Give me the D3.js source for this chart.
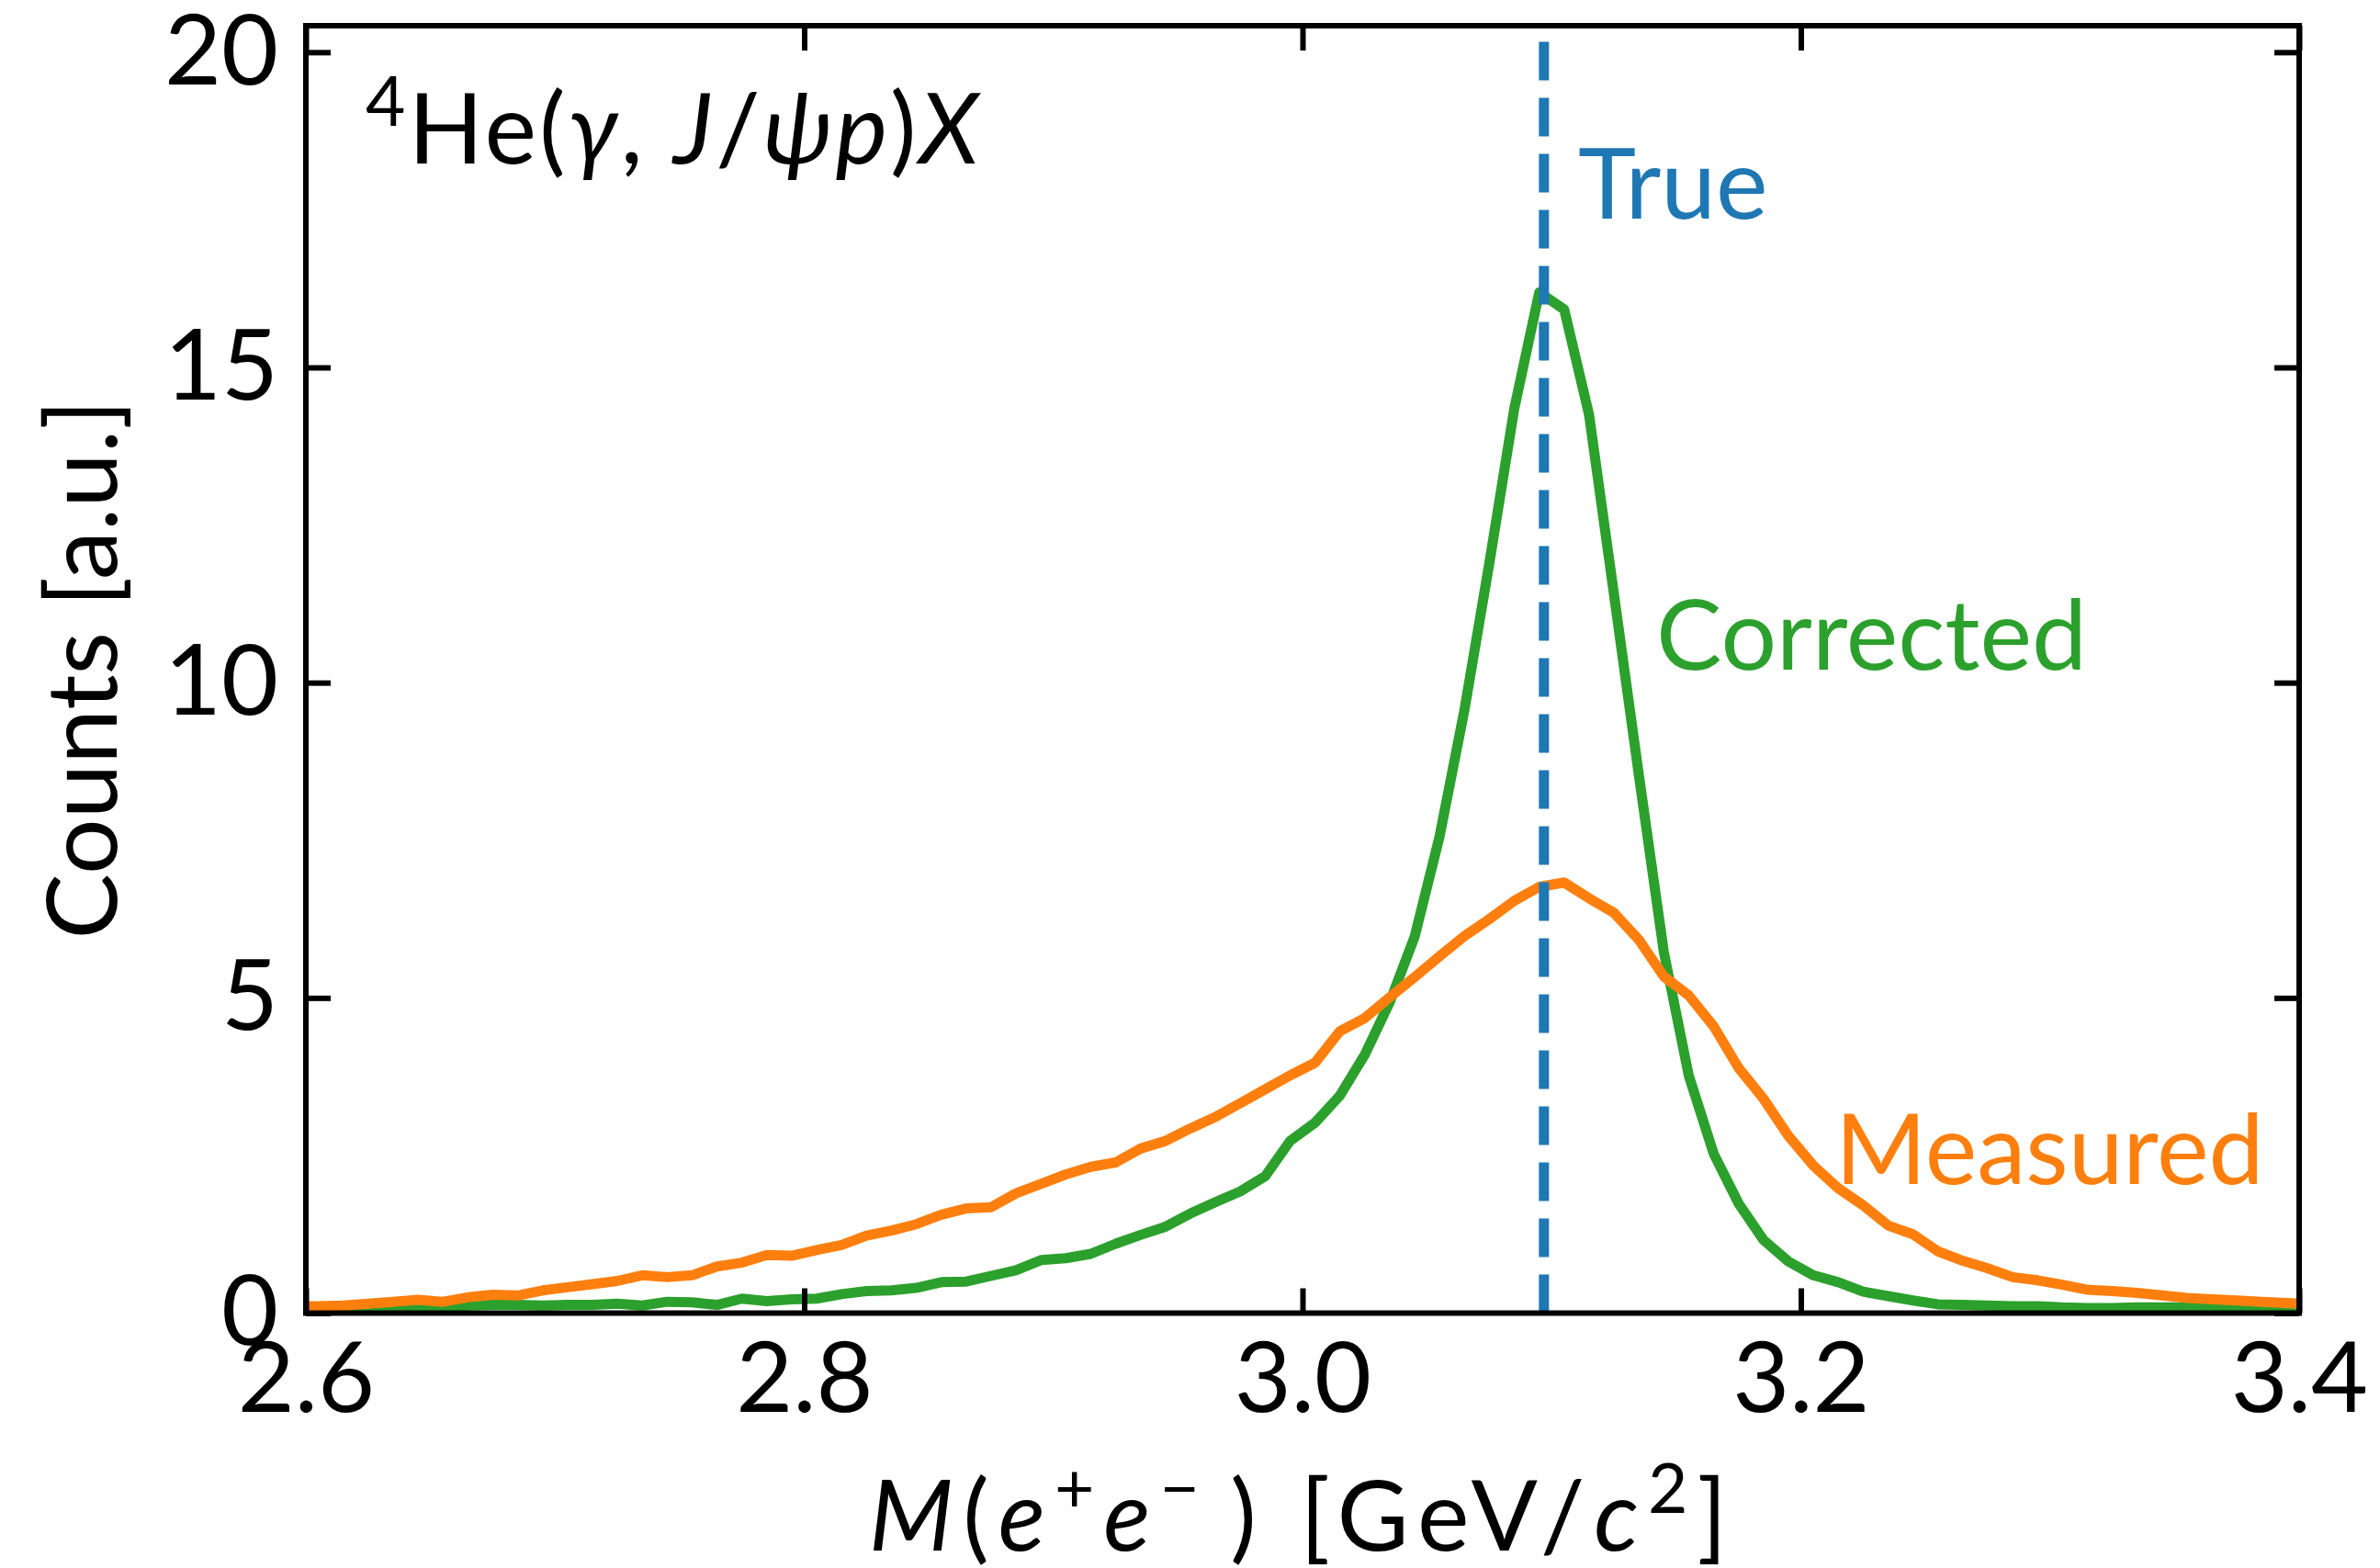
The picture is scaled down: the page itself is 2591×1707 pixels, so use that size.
<!DOCTYPE html>
<html>
<head>
<meta charset="utf-8">
<style>
  html, body { margin: 0; padding: 0; background: #fff; }
  text { font-family: 'Lato', 'DejaVu Sans', sans-serif; white-space: pre; }
</style>
<script src="https://cdn.jsdelivr.net/npm/d3@7"></script>
</head>
<body>
<svg width="2591" height="1707"></svg>
<script>

// bin centres, GeV/c^2 (the two end points sit just outside the frame and get clipped)
var mass = [2.595,
  2.605, 2.615, 2.625, 2.635, 2.645, 2.655, 2.665, 2.675, 2.685, 2.695,
  2.705, 2.715, 2.725, 2.735, 2.745, 2.755, 2.765, 2.775, 2.785, 2.795,
  2.805, 2.815, 2.825, 2.835, 2.845, 2.855, 2.865, 2.875, 2.885, 2.895,
  2.905, 2.915, 2.925, 2.935, 2.945, 2.955, 2.965, 2.975, 2.985, 2.995,
  3.005, 3.015, 3.025, 3.035, 3.045, 3.055, 3.065, 3.075, 3.085, 3.095,
  3.105, 3.115, 3.125, 3.135, 3.145, 3.155, 3.165, 3.175, 3.185, 3.195,
  3.205, 3.215, 3.225, 3.235, 3.245, 3.255, 3.265, 3.275, 3.285, 3.295,
  3.305, 3.315, 3.325, 3.335, 3.345, 3.355, 3.365, 3.375, 3.385, 3.395,
  3.405];

var measured = [0.11,
  0.11, 0.12, 0.15, 0.18, 0.21, 0.18, 0.25, 0.29, 0.28, 0.36,
  0.41, 0.46, 0.51, 0.60, 0.57, 0.60, 0.74, 0.80, 0.92, 0.91,
  1.00, 1.08, 1.23, 1.31, 1.41, 1.56, 1.66, 1.68, 1.90, 2.05,
  2.20, 2.32, 2.39, 2.61, 2.73, 2.93, 3.11, 3.33, 3.55, 3.77,
  3.97, 4.47, 4.68, 5.01, 5.33, 5.66, 5.98, 6.25, 6.54, 6.76,
  6.83, 6.58, 6.35, 5.92, 5.34, 5.04, 4.55, 3.89, 3.40, 2.81,
  2.34, 1.98, 1.71, 1.39, 1.25, 0.98, 0.83, 0.71, 0.57, 0.52,
  0.45, 0.37, 0.35, 0.32, 0.28, 0.24, 0.22, 0.20, 0.18, 0.16,
  0.14];

var corrected = [0.02,
  0.02, 0.03, 0.04, 0.06, 0.08, 0.07, 0.12, 0.13, 0.13, 0.12,
  0.13, 0.13, 0.15, 0.12, 0.18, 0.17, 0.13, 0.23, 0.19, 0.22,
  0.23, 0.30, 0.35, 0.36, 0.40, 0.49, 0.50, 0.59, 0.68, 0.84,
  0.87, 0.94, 1.10, 1.24, 1.37, 1.58, 1.76, 1.93, 2.17, 2.73,
  3.02, 3.45, 4.10, 4.93, 5.97, 7.56, 9.57, 11.90, 14.35, 16.19,
  15.92, 14.25, 11.40, 8.53, 5.73, 3.77, 2.53, 1.74, 1.16, 0.82,
  0.60, 0.49, 0.34, 0.27, 0.20, 0.14, 0.13, 0.12, 0.11, 0.11,
  0.09, 0.08, 0.08, 0.09, 0.09, 0.09, 0.08, 0.06, 0.05, 0.04,
  0.04];

var trueMass = 3.0969;   // J/psi

var xTicks = [2.6, 2.8, 3.0, 3.2, 3.4];
var yTicks = [0, 5, 10, 15, 20];
var xDomain = [2.6, 3.4];
var yDomain = [0, 20.42];

var blue = "#1f77b4", orange = "#ff7f0e", green = "#2ca02c";
var fs = 107;

var svg = d3.select("svg"),
    plot = {left: 333, right: 2503, top: 28, bottom: 1429.5};

var x = d3.scaleLinear().domain(xDomain).range([plot.left, plot.right]),
    y = d3.scaleLinear().domain(yDomain).range([plot.bottom, plot.top]);

svg.append("defs").append("clipPath").attr("id", "frame")
  .append("rect")
    .attr("x", plot.left).attr("y", plot.top)
    .attr("width", plot.right - plot.left)
    .attr("height", plot.bottom - plot.top);

var line = function(vals) {
  return d3.line()
    .x(function(d, i) { return x(mass[i]); })
    .y(function(d) { return y(d); })(vals);
};

var g = svg.append("g").attr("clip-path", "url(#frame)");

g.append("path")
    .attr("d", line(corrected))
    .attr("fill", "none").attr("stroke", green)
    .attr("stroke-width", 11).attr("stroke-linejoin", "round");

g.append("path")
    .attr("d", line(measured))
    .attr("fill", "none").attr("stroke", orange)
    .attr("stroke-width", 11).attr("stroke-linejoin", "round");

// dashes start at the bottom, like matplotlib's axvline
g.append("line")
    .attr("x1", x(trueMass)).attr("x2", x(trueMass))
    .attr("y1", plot.bottom).attr("y2", plot.top)
    .attr("stroke", blue).attr("stroke-width", 11)
    .attr("stroke-dasharray", "42,19");

// axes: inward ticks on all four sides
function styleAxis(sel) {
  sel.select(".domain").remove();
  sel.selectAll(".tick line").attr("stroke", "#000").attr("stroke-width", 6);
  sel.selectAll(".tick text")
    .attr("fill", "#000")
    .style("font-size", fs + "px")
    .style("font-family", "'Lato', sans-serif");
}

svg.append("g")
    .attr("transform", "translate(0," + plot.bottom + ")")
    .call(d3.axisBottom(x).tickValues(xTicks).tickFormat(d3.format(".1f"))
      .tickSizeInner(-27).tickSizeOuter(0).tickPadding(32))
    .call(styleAxis);

svg.append("g")
    .attr("transform", "translate(0," + plot.top + ")")
    .call(d3.axisTop(x).tickValues(xTicks).tickFormat("")
      .tickSizeInner(-27).tickSizeOuter(0))
    .call(styleAxis);

svg.append("g")
    .attr("transform", "translate(" + plot.left + ",0)")
    .call(d3.axisLeft(y).tickValues(yTicks).tickFormat(d3.format("d"))
      .tickSizeInner(-27).tickSizeOuter(0).tickPadding(30))
    .call(styleAxis);

svg.append("g")
    .attr("transform", "translate(" + plot.right + ",0)")
    .call(d3.axisRight(y).tickValues(yTicks).tickFormat("")
      .tickSizeInner(-27).tickSizeOuter(0))
    .call(styleAxis);

svg.append("rect")
    .attr("x", plot.left).attr("y", plot.top)
    .attr("width", plot.right - plot.left)
    .attr("height", plot.bottom - plot.top)
    .attr("fill", "none").attr("stroke", "#000").attr("stroke-width", 6);

// text with italic / superscript runs
function addRuns(sel, runs, size) {
  var raised = 0;
  runs.forEach(function(r) {
    var lift = r.sup ? Math.round(size * 0.38) : 0;
    sel.append("tspan")
      .attr("dy", raised - lift)
      .style("font-size", (r.sup ? size * 0.7 : size) + "px")
      .style("font-style", r.it ? "italic" : "normal")
      .text(r.t);
    raised = lift;
  });
}

var reaction = svg.append("text").attr("x", 398).attr("y", 178)
    .style("letter-spacing", "3px");
addRuns(reaction, [
  {t: "4", sup: true}, {t: "He"}, {t: "("}, {t: "\u03b3", it: true},
  {t: ", "}, {t: "J", it: true}, {t: "/"}, {t: "\u03c8p", it: true},
  {t: ")"}, {t: "X", it: true}
], fs);

var xlab = svg.append("text")
    .attr("x", (plot.left + plot.right) / 2).attr("y", 1688)
    .attr("text-anchor", "middle")
    .style("letter-spacing", "10px");
addRuns(xlab, [
  {t: "M", it: true}, {t: "("}, {t: "e", it: true}, {t: "+", sup: true},
  {t: "e", it: true}, {t: "\u2212", sup: true}, {t: "\u2009)"},
  {t: " [GeV/"}, {t: "c", it: true}, {t: "2", sup: true}, {t: "]"}
], fs);

svg.append("text")
    .attr("transform", "translate(127," + (plot.top + plot.bottom) / 2 + ") rotate(-90)")
    .attr("text-anchor", "middle")
    .style("font-size", fs + "px")
    .text("Counts [a.u.]");

svg.append("text").attr("x", 1718).attr("y", 238)
    .attr("fill", blue).style("font-size", fs + "px").text("True");
svg.append("text").attr("x", 1803).attr("y", 729)
    .attr("fill", green).style("font-size", fs + "px").text("Corrected");
svg.append("text").attr("x", 1998).attr("y", 1289)
    .attr("fill", orange).style("font-size", fs + "px").text("Measured");

</script>
</body>
</html>
